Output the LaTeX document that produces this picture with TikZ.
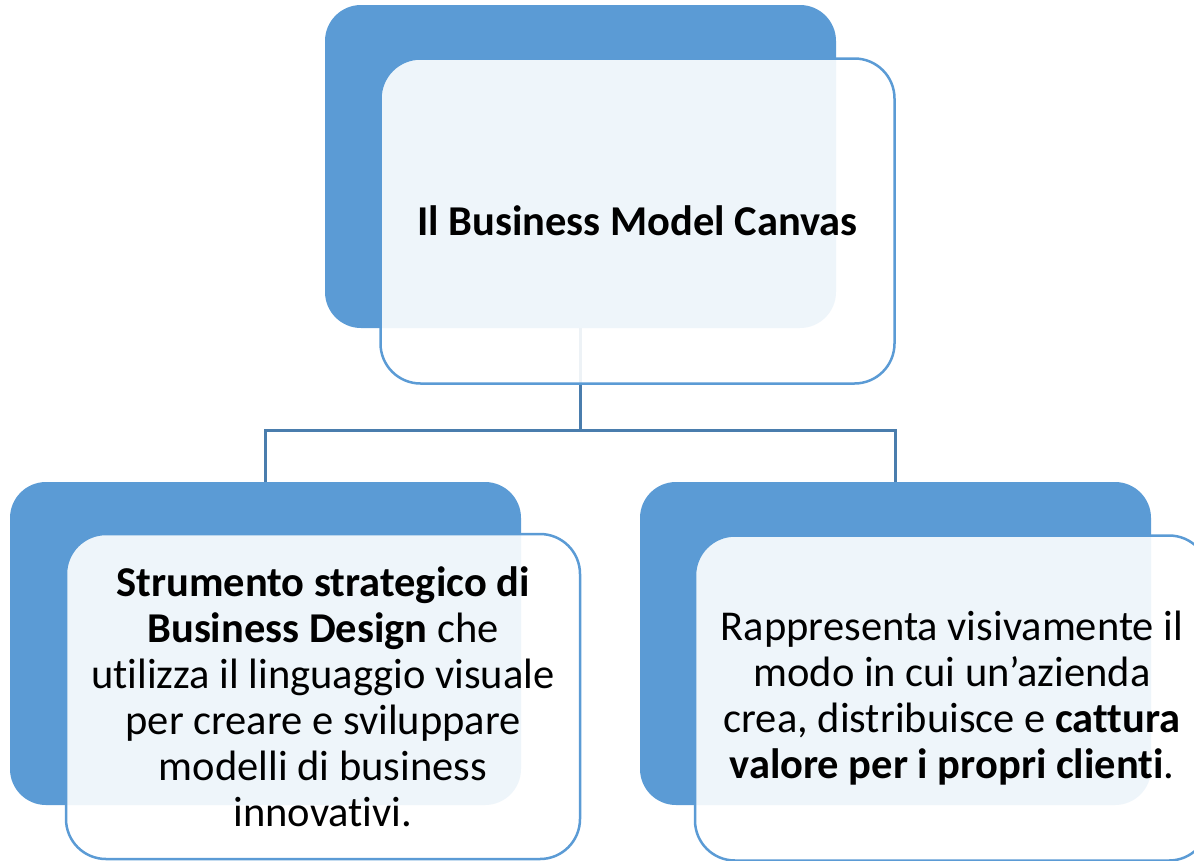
\documentclass[tikz,border=0pt]{standalone}
\usepackage{fontspec}
\setmainfont{Carlito}[Ligatures=NoCommon]
\definecolor{boxblue}{HTML}{5B9BD5}
\definecolor{linkblue}{HTML}{4A7DAD}
\begin{document}
\begin{tikzpicture}[x=1pt,y=-1pt,
  backbox/.style={fill=boxblue, rounded corners=36pt, minimum width=511pt, minimum height=323pt, inner sep=0pt},
  frontbox/.style={draw=boxblue, line width=2.5pt, fill=white, fill opacity=0.9, text opacity=1, rounded corners=40pt, minimum width=514pt, minimum height=325pt, inner sep=0pt, align=center, font=\fontsize{42.5}{46}\selectfont},
  link/.style={draw=linkblue, line width=3pt}]
\useasboundingbox (0,0) rectangle (1194,860);
\node[backbox] (topback) at (580.5,166.5) {};
\node[backbox] (lback) at (265.5,643.5) {};
\node[backbox] (rback) at (895.5,643.5) {};
\draw[link] (topback.south) -- ++(0,102) coordinate (mid) -| (lback.north);
\draw[link] (mid) -| (rback.north);
\node[frontbox] (top) at (637.5,221) {\textbf{Il Business Model Canvas}};
\node[frontbox] (left) at (323,696.5) {\textbf{Strumento strategico di}\\ \textbf{Business Design} che\\ utilizza il linguaggio visuale\\ per creare e sviluppare\\ modelli di business\\ innovativi.};
\node[frontbox] (right) at (952,698) {Rappresenta visivamente il\\ modo in cui un’azienda\\ crea, distribuisce e \textbf{cattura}\\ \textbf{valore per i propri clienti}.};
\end{tikzpicture}
\end{document}
